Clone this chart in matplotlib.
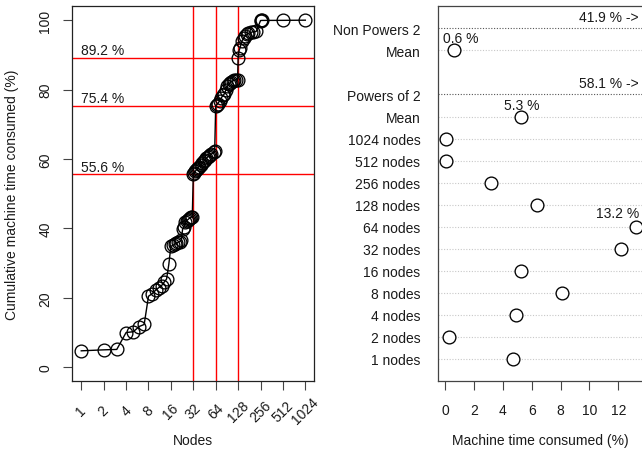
import numpy as np
import matplotlib
matplotlib.use('Agg')
import matplotlib.pyplot as plt
from matplotlib.transforms import blended_transform_factory

plt.rcParams['font.family'] = ['Liberation Sans', 'DejaVu Sans']
plt.rcParams['font.size'] = 10

# ---- data ----
nodes = [1, 2, 3, 4, 5, 6, 7, 8, 9, 10, 11, 12, 13, 14, 15, 16,
         17, 18, 19, 20, 21, 22, 23, 24, 25, 26, 27, 28, 29, 30, 31, 32,
         33, 34, 35, 36, 37, 38, 40, 42, 44, 46, 48, 50, 52, 54, 56, 60, 62, 64,
         66, 68, 72, 76, 80, 84, 88, 92, 96, 100, 104, 110, 112, 120, 126, 128,
         132, 136, 144, 152, 160, 168, 176, 192, 200, 224, 256,
         260, 272, 512, 1024]
cumulative = [4.70, 4.98, 5.10, 9.97, 10.20, 11.70, 12.30, 20.42, 21.20, 22.20, 22.90, 23.50, 24.50, 25.40, 29.60, 34.82,
              35.10, 35.40, 35.70, 36.00, 36.20, 36.50, 39.80, 40.40, 41.70, 42.20, 42.50, 42.80, 43.00, 43.20, 43.40, 55.57,
              56.00, 56.40, 56.80, 57.20, 57.50, 57.80, 58.20, 58.70, 59.30, 59.80, 60.20, 60.60, 60.90, 61.10, 61.40, 61.90, 62.20, 75.40,
              75.60, 75.90, 76.70, 77.60, 78.30, 78.80, 80.00, 81.00, 81.60, 82.00, 82.30, 82.50, 82.70, 82.80, 82.85, 89.22,
              91.30, 92.00, 94.00, 94.80, 95.50, 95.90, 96.20, 96.50, 96.65, 96.75, 99.89,
              99.91, 99.93, 99.95, 100.00]
power_ticks = [1, 2, 4, 8, 16, 32, 64, 128, 256, 512, 1024]
marked_nodes = [32, 64, 128]

nodes = np.array(nodes)
cumulative = np.array(cumulative)
pct = np.diff(np.concatenate([[0.0], cumulative]))
is_pow = np.isin(nodes, power_ticks)
pow_pct = pct[is_pow]
non_pct = pct[~is_pow]
pow_total, non_total = pow_pct.sum(), non_pct.sum()
pow_mean, non_mean = pow_pct.mean(), non_pct.mean()

W, H = 642, 452
fig = plt.figure(figsize=(W / 100, H / 100), dpi=100)
txt = '#1a1a1a'

# ---- left panel ----
ax = fig.add_axes([72.3 / W, 1 - 382 / H, (314.3 - 72.3) / W, (382 - 7.3) / H])
ax.set_xscale('log', base=2)
ax.set_xlim(2 ** -0.4, 2 ** 10.4)
ax.set_ylim(-4, 104)
for n in marked_nodes:
    c = cumulative[nodes == n][0]
    ax.axvline(n, color='red', lw=1, zorder=1)
    ax.axhline(c, color='red', lw=1, zorder=1)
    ax.text(1, c + 1.0, f'{c:.1f} %', ha='left', va='baseline', fontsize=10, color=txt)
ax.plot(nodes, cumulative, color='black', lw=1, marker='o', ms=9.2,
        mfc='none', mec='black', mew=0.95, zorder=3)
ax.set_xticks(power_ticks)
ax.set_xticklabels([])
ax.minorticks_off()
trans = blended_transform_factory(ax.transData, ax.transAxes)
for n in power_ticks:
    ax.text(n, -29.5 / 375, str(n), rotation=45, ha='center', va='center',
            transform=trans, fontsize=10, color=txt)
ax.set_yticks([0, 20, 40, 60, 80, 100])
ax.set_yticklabels(['0', '20', '40', '60', '80', '100'], rotation=90, va='center')
ax.tick_params(axis='both', direction='out', length=6.5, width=0.8, color='#444444',
               labelcolor=txt)
ax.tick_params(axis='y', pad=8)
for s in ax.spines.values():
    s.set_linewidth(0.9)
    s.set_color('#222222')

# ---- right panel ----
ax2 = fig.add_axes([437.7 / W, 1 - 382 / H, (643.2 - 437.7) / W, (382 - 7.3) / H])
ax2.set_xlim(-0.528, 13.73)
ax2.set_ylim(0, 17)
point_rows = list(range(1, 12))
mean_rows = [12, 15]
group_rows = [13, 16]
row_labels = [f'{n} nodes' for n in power_ticks] + ['Mean', 'Powers of 2', 'Mean', 'Non Powers 2']
all_rows = point_rows + [12, 13, 15, 16]
for y in point_rows + mean_rows:
    ax2.axhline(y, color='#c8c8c8', lw=0.8, ls=(0, (1, 1.5)), zorder=1)
for y in group_rows:
    ax2.axhline(y, color='#555555', lw=0.8, ls=(0, (1, 1.5)), zorder=1)
ax2.plot(pow_pct, point_rows, 'o', ms=9.2, mfc='white', mec='black', mew=0.95, zorder=3, clip_on=False)
ax2.plot([pow_mean, non_mean], mean_rows, 'o', ms=9.2, mfc='white', mec='black', mew=0.95, zorder=3)
ax2.set_yticks(all_rows)
ax2.set_yticklabels(row_labels)
ax2.tick_params(axis='y', length=0, pad=12.5, labelcolor=txt)
ax2.set_xticks([0, 2, 4, 6, 8, 10, 12])
ax2.tick_params(axis='x', direction='out', length=6.5, width=0.8, color='#444444',
                pad=9, labelcolor=txt)
for s in ax2.spines.values():
    s.set_linewidth(0.9)
    s.set_color('#444444')

ax2.text(13.39, 16.53, f'{non_total:.1f} % ->', ha='right', va='center', fontsize=10, color=txt)
ax2.text(13.39, 13.53, f'{pow_total:.1f} % ->', ha='right', va='center', fontsize=10, color=txt)
ax2.text(1.04, 15.56, f'{non_mean:.1f} %', ha='center', va='center', fontsize=10, color=txt)
ax2.text(pow_mean, 12.51, f'{pow_mean:.1f} %', ha='center', va='center', fontsize=10, color=txt)
imax = int(np.argmax(pow_pct))
ax2.text(11.95, point_rows[imax] + 0.62, f'{pow_pct[imax]:.1f} %', ha='center', va='center',
         fontsize=10, color=txt)

# ---- axis titles ----
fig.text(193 / W, 1 - 441 / H, 'Nodes', ha='center', va='center', fontsize=10, color=txt)
fig.text(540 / W, 1 - 441 / H, 'Machine time consumed (%)', ha='center', va='center',
         fontsize=10, color=txt)
fig.text(12 / W, 1 - 194.5 / H, 'Cumulative machine time consumed (%)', rotation=90,
         ha='center', va='center', fontsize=10, color=txt)

fig.savefig('out.png', dpi=100)
